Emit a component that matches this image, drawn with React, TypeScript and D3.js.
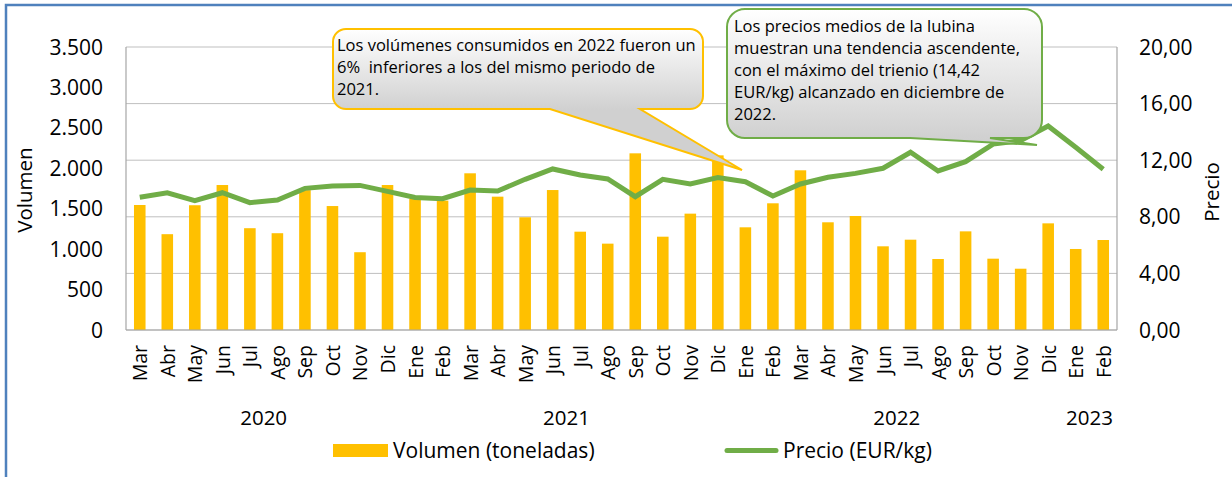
import React from "react";
import * as d3 from "d3";

// Monthly consumption of sea bass: volume (t) and average price (EUR/kg), Mar 2020 – Feb 2023
const months = [
  "Mar", "Abr", "May", "Jun", "Jul", "Ago", "Sep", "Oct", "Nov", "Dic",
  "Ene", "Feb", "Mar", "Abr", "May", "Jun", "Jul", "Ago", "Sep", "Oct", "Nov", "Dic",
  "Ene", "Feb", "Mar", "Abr", "May", "Jun", "Jul", "Ago", "Sep", "Oct", "Nov", "Dic",
  "Ene", "Feb",
];
const yearLabels = ["2020", "2021", "2022", "2023"];
const yearMonthCounts = [10, 12, 12, 2];

const volumen = [
  1546, 1185, 1543, 1793, 1259, 1197, 1730, 1533, 962, 1793,
  1620, 1600, 1938, 1649, 1394, 1731, 1216, 1068, 2185, 1154, 1439, 2160,
  1270, 1567, 1975, 1332, 1410, 1035, 1117, 878, 1220, 882, 758, 1319,
  1002, 1113,
];
const precio = [
  9.38, 9.7, 9.14, 9.7, 9.0, 9.19, 10.01, 10.18, 10.22, 9.8,
  9.36, 9.28, 9.89, 9.82, 10.65, 11.38, 10.95, 10.67, 9.42, 10.65, 10.32, 10.77,
  10.48, 9.47, 10.32, 10.79, 11.07, 11.43, 12.56, 11.24, 11.9, 13.14, 13.38, 14.42,
  12.91, 11.36,
];

const volTicks = [0, 500, 1000, 1500, 2000, 2500, 3000, 3500];
const priceTicks = [0, 4, 8, 12, 16, 20];

const notaVolumen = [
  "Los volúmenes consumidos en 2022 fueron un",
  "6%  inferiores a los del mismo periodo de",
  "2021.",
];
const notaPrecio = [
  "Los precios medios de la lubina",
  "muestran una tendencia ascendente,",
  "con el máximo del trienio (14,42",
  "EUR/kg) alcanzado en diciembre de",
  "2022.",
];

const W = 1232;
const H = 477;
const M = { left: 126, right: 1117, top: 47, bottom: 330 };
const FONT = "'Open Sans', 'DejaVu Sans', sans-serif";
const BAR = "#FFC000";
const LINE = "#70AD47";
const GRID = "#BFBFBF";
const AXIS = "#A6A6A6";

const es = d3.formatLocale({
  decimal: ",",
  thousands: ".",
  grouping: [3],
  currency: ["", " €"],
});
const fmtVol = es.format(",");
const fmtPrice = es.format(",.2f");

// Rounded box with a wedge pointer leaving from its bottom edge
function calloutPath(
  x0: number, y0: number, x1: number, y1: number, r: number,
  baseA: number, baseB: number, tipX: number, tipY: number
) {
  return [
    `M${x0 + r},${y0}`,
    `H${x1 - r}`,
    `A${r},${r} 0 0 1 ${x1},${y0 + r}`,
    `V${y1 - r}`,
    `A${r},${r} 0 0 1 ${x1 - r},${y1}`,
    `H${baseB}`,
    `L${tipX},${tipY}`,
    `L${baseA},${y1}`,
    `H${x0 + r}`,
    `A${r},${r} 0 0 1 ${x0},${y1 - r}`,
    `V${y0 + r}`,
    `A${r},${r} 0 0 1 ${x0 + r},${y0}`,
    "Z",
  ].join(" ");
}

export default function App() {
  const idx = months.map((_, i) => i);
  const x = d3
    .scaleBand<number>()
    .domain(idx)
    .range([M.left, M.right])
    .paddingInner(0.58)
    .paddingOuter(0.29);
  const step = x.step();
  const cx = (i: number) => (x(i) as number) + x.bandwidth() / 2;

  const yVol = d3.scaleLinear().domain([0, 3500]).range([M.bottom, M.top]);
  const yPrice = d3.scaleLinear().domain([0, 20]).range([M.bottom, M.top]);

  const line = d3
    .line<number>()
    .x((_, i) => cx(i))
    .y((d) => yPrice(d));

  // year group spans
  let start = 0;
  const groups = yearLabels.map((label, g) => {
    const s = start;
    start += yearMonthCounts[g];
    const xa = M.left + s * step;
    const xb = M.left + start * step;
    return { label, mid: (xa + xb) / 2 };
  });

  return (
    <svg
      width={W}
      height={H}
      style={{ position: "absolute", left: 0, top: 0, background: "#fff" }}
      fontFamily={FONT}
    >
      <defs>
        <linearGradient id="gradVol" gradientUnits="userSpaceOnUse" x1="0" y1="29" x2="0" y2="110">
          <stop offset="0" stopColor="#ffffff" />
          <stop offset="1" stopColor="#d0d0d0" />
        </linearGradient>
        <linearGradient id="gradPrecio" gradientUnits="userSpaceOnUse" x1="0" y1="9" x2="0" y2="139">
          <stop offset="0" stopColor="#ffffff" />
          <stop offset="1" stopColor="#d0d0d0" />
        </linearGradient>
      </defs>

      {/* outer frame */}
      <rect x={6} y={5} width={W + 20} height={H + 20} fill="none" stroke="#4F81BD" strokeWidth={2.5} />

      {/* gridlines follow the price axis */}
      {priceTicks.map((t) => (
        <line key={t} x1={M.left} x2={M.right} y1={yPrice(t)} y2={yPrice(t)} stroke={GRID} strokeWidth={1} />
      ))}

      {/* bars */}
      {volumen.map((v, i) => (
        <rect
          key={i}
          x={x(i)}
          y={yVol(v)}
          width={x.bandwidth()}
          height={yVol(0) - yVol(v)}
          fill={BAR}
        />
      ))}

      {/* axes */}
      <line x1={M.left} x2={M.left} y1={M.top} y2={M.bottom} stroke={AXIS} strokeWidth={1.2} />
      <line x1={M.right} x2={M.right} y1={M.top} y2={M.bottom} stroke={AXIS} strokeWidth={1.2} />
      <line x1={M.left} x2={M.right} y1={M.bottom} y2={M.bottom} stroke={AXIS} strokeWidth={1.2} />

      {/* price line */}
      <path d={line(precio) || ""} fill="none" stroke={LINE} strokeWidth={5} strokeLinejoin="miter" />

      {/* left ticks */}
      {volTicks.map((t) => (
        <text key={t} x={103} y={yVol(t)} dy="0.36em" textAnchor="end" fontSize={21} fill="#000">
          {fmtVol(t)}
        </text>
      ))}
      {/* right ticks */}
      {priceTicks.map((t) => (
        <text key={t} x={1139} y={yPrice(t)} dy="0.36em" textAnchor="start" fontSize={21} fill="#000">
          {fmtPrice(t)}
        </text>
      ))}

      {/* axis titles */}
      <text transform="translate(32,190) rotate(-90)" textAnchor="middle" fontSize={20.5} fill="#000">
        Volumen
      </text>
      <text transform="translate(1219,192) rotate(-90)" textAnchor="middle" fontSize={20.5} fill="#000">
        Precio
      </text>

      {/* month labels */}
      {months.map((m, i) => (
        <text
          key={i}
          transform={`translate(${cx(i)},345) rotate(-90)`}
          textAnchor="end"
          dominantBaseline="central"
          fontSize={19.5}
          fill="#000"
        >
          {m}
        </text>
      ))}

      {/* year labels */}
      {groups.map((g) => (
        <text key={g.label} x={g.mid} y={425} textAnchor="middle" fontSize={20.5} fill="#000">
          {g.label}
        </text>
      ))}

      {/* legend */}
      <rect x={333} y={444} width={55} height={13} fill={BAR} />
      <text x={393} y={458} fontSize={21} fill="#000">Volumen (toneladas)</text>
      <line x1={727} x2={776} y1={450.5} y2={450.5} stroke={LINE} strokeWidth={5} strokeLinecap="round" />
      <text x={783} y={458} fontSize={21} fill="#000">Precio (EUR/kg)</text>

      {/* volume note */}
      <path
        d={calloutPath(333, 29, 703, 109, 13, 550, 640, 742, 170)}
        fill="url(#gradVol)"
        stroke={BAR}
        strokeWidth={2}
      />
      <text fontSize={16.5} fill="#000" style={{ whiteSpace: "pre" }}>
        {notaVolumen.map((s, i) => (
          <tspan key={i} x={337} y={51 + i * 22}>{s}</tspan>
        ))}
      </text>

      {/* price note */}
      <path
        d={calloutPath(727, 9, 1042, 138, 18, 910, 990, 1037, 145)}
        fill="url(#gradPrecio)"
        stroke={LINE}
        strokeWidth={2}
      />
      <text fontSize={16.5} fill="#000">
        {notaPrecio.map((s, i) => (
          <tspan key={i} x={734} y={32 + i * 22}>{s}</tspan>
        ))}
      </text>
    </svg>
  );
}
